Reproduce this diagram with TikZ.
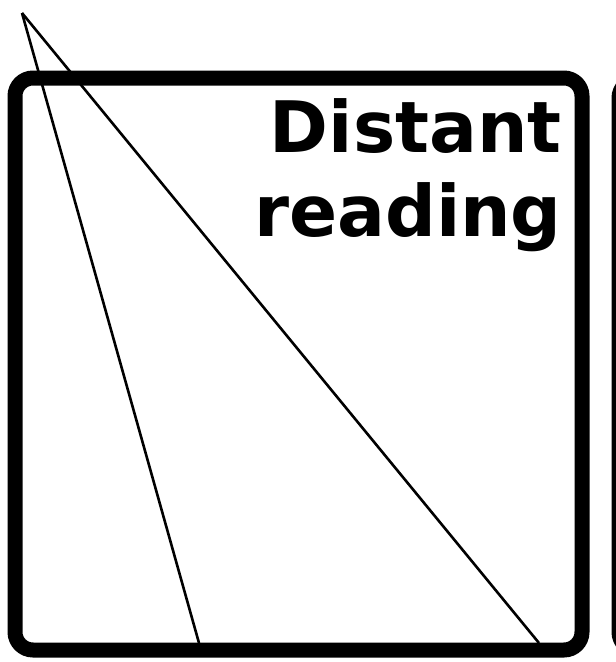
\documentclass[tikz,border=0pt]{standalone}
\usepackage{fontspec}
\setmainfont{DejaVu Sans}
\usetikzlibrary{positioning}

\begin{document}
\begin{tikzpicture}[x=1pt, y=-1pt, panel/.style={line width=15pt, rounded corners=18pt}, ray/.style={line width=2.6pt}, lab/.style={font=\bfseries\fontsize{71}{84}\selectfont, align=right, inner sep=0pt}]
	\useasboundingbox (0,0) rectangle (616,662);
	\clip (0,0) rectangle (616,662);
	% this panel and the edge of the next one
	\draw[panel] (15,78) rectangle (582,650);
	\draw[panel] (619,80) rectangle (1180,650);
	% field of view
	\coordinate (apex) at (22,13);
	\coordinate (near) at (199,643);
	\coordinate (far) at (539,643);
	\draw[ray] (apex) -- (near);
	\draw[ray] (apex) -- (far);
	\node[lab, anchor=north east] (title) at (562,98) {Distant\\reading};
\end{tikzpicture}
\end{document}
